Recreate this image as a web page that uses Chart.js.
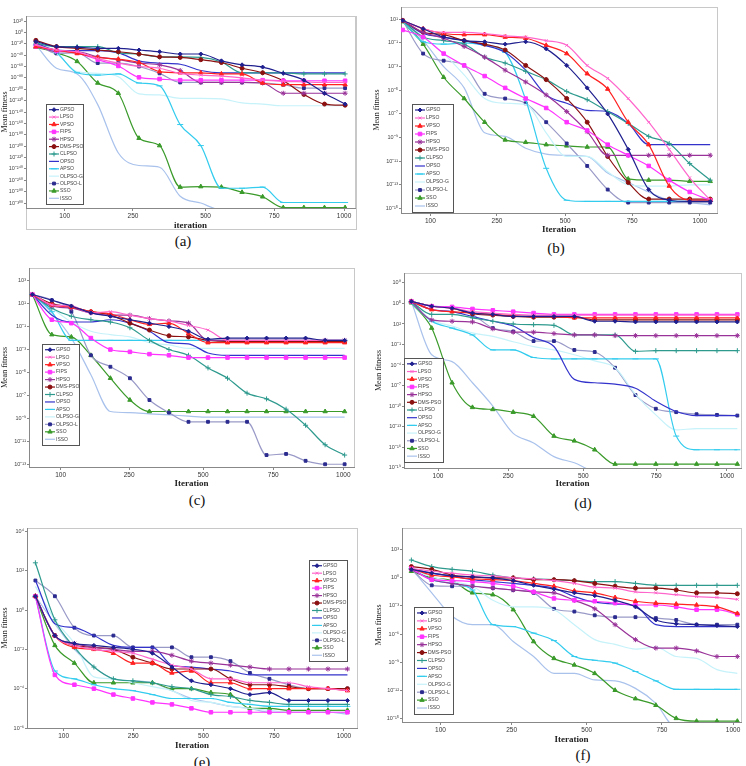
<!DOCTYPE html>
<html>
<head>
<meta charset="utf-8">
<script src="https://cdn.jsdelivr.net/npm/chart.js@4.4.1/dist/chart.umd.min.js"></script>
<style>
  body { margin: 0; background: #fff; }
  #fig { position: relative; width: 746px; height: 766px; overflow: hidden; }
  canvas { position: absolute; }
  .frame { position: absolute; border: 1px solid #c8c8c8; box-sizing: border-box; }
  .cap { position: absolute; font: 15px "Liberation Serif", serif; color: #111; transform: translate(-50%, -50%); }
</style>
</head>
<body>
<div id="fig">
  <div class="frame" style="left:26px;top:16px;width:331px;height:214px"></div>
  <canvas id="cA" width="360" height="222" style="left:0;top:10px"></canvas>
  <canvas id="cB" width="374" height="236" style="left:372px;top:0"></canvas>
  <canvas id="cC" width="360" height="228" style="left:0;top:262px"></canvas>
  <canvas id="cD" width="372" height="223" style="left:374px;top:267px"></canvas>
  <canvas id="cE" width="362" height="230" style="left:0;top:522px"></canvas>
  <canvas id="cF" width="372" height="224" style="left:374px;top:522px"></canvas>
  <div class="cap" style="left:183px;top:241px">(a)</div>
  <div class="cap" style="left:556px;top:248px">(b)</div>
  <div class="cap" style="left:197px;top:500px">(c)</div>
  <div class="cap" style="left:583px;top:503px">(d)</div>
  <div class="cap" style="left:202px;top:762px">(e)</div>
  <div class="cap" style="left:583px;top:755px">(f)</div>
</div>
<script>
// mean fitness is kept as log10 values (the exponent shown on the axis)
const algorithms = ["GPSO", "LPSO", "VPSO", "FIPS", "HPSO", "DMS-PSO", "CLPSO",
  "OPSO", "APSO", "OLPSO-G", "OLPSO-L", "SSO", "ISSO"];

const steps16 = [0, 1, 2, 3, 4, 5, 6, 7, 8, 9, 10, 11, 12, 13, 14, 15];
const steps17 = [0, 1, 2, 3, 4, 5, 6, 7, 8, 9, 10, 11, 12, 13, 14, 15, 16];

const iterLabels = ["100", "250", "500", "750", "1000"];
const iterPosA = [1.40, 4.71, 8.23, 11.56, 14.95];
const iterPosB = [1.35, 4.60, 7.93, 11.19, 14.49];
const iterPosC = [1.45, 4.96, 8.75, 12.34, 15.93];
const iterPosD = [1.31, 4.75, 8.44, 12.02, 15.49];
const iterPosE = [1.45, 5.02, 8.62, 12.24, 15.82];
const iterPosF = [1.43, 4.92, 8.61, 12.30, 15.79];

const yTicksA = [20, 0, -20, -40, -60, -80, -100, -120, -140, -160, -180, -200, -220, -240, -260, -280, -300];
const yTicksB = [1, -1, -3, -5, -7, -9, -11, -13, -15];
const yTicksC = [3, 1, -1, -3, -5, -7, -9, -11, -13];
const yTicksD = [8, 5, 2, -1, -4, -7, -10, -13, -16, -19];
const yTicksE = [4, 2, 0, -2, -4, -6];
const yTicksF = [3, 0, -3, -6, -9, -12, -15];

// rows follow the order of `algorithms`
const fitA = [
  [-16, -25, -26, -28, -28, -31, -34, -38, -38, -50, -57, -61, -72, -84, -107, -126],
  [-22, -31, -34, -46, -54, -60, -63, -72, -75, -77, -80, -84, -86, -87, -88, -88],
  [-25, -31, -37, -44, -47, -53, -69, -71, -71, -73, -73, -89, -92, -92, -92, -92],
  [-25, -32, -36, -48, -59, -79, -82, -84, -84, -84, -84, -84, -85, -85, -85, -85],
  [-22, -34, -34, -43, -48, -54, -57, -67, -88, -88, -88, -89, -107, -107, -107, -107],
  [-14, -25, -28, -31, -34, -38, -43, -44, -48, -53, -63, -71, -85, -109, -126, -128],
  [-19, -25, -25, -25, -36, -38, -43, -43, -44, -52, -71, -71, -71, -73, -73, -73],
  [-19, -31, -32, -32, -36, -50, -54, -56, -67, -71, -71, -71, -71, -71, -71, -71],
  [-22, -36, -71, -75, -73, -89, -94, -162, -199, -274, -274, -272, -299, -299, -299, -299],
  [-22, -37, -69, -72, -78, -108, -110, -116, -116, -117, -124, -126, -129, -129, -129, -129],
  [-19, -37, -36, -54, -54, -60, -72, -88, -88, -88, -88, -89, -92, -98, -98, -98],
  [-26, -36, -51, -89, -107, -186, -199, -272, -271, -272, -281, -289, -308, -308, -308, -308],
  [-22, -63, -73, -127, -212, -234, -237, -288, -300, -312, -312, -312, -312, -312, -312, -312]
];

const fitB = [
  [0.9, 0.2, -0.5, -0.8, -0.9, -1.1, -0.9, -1.5, -2.9, -4.8, -7.0, -10.0, -13.4, -14.3, -14.4, -14.4],
  [0.9, 0.2, -0.1, -0.1, -0.2, -0.4, -0.5, -0.8, -1.2, -2.9, -4.0, -5.7, -7.7, -10.0, -12.4, -14.3],
  [0.9, 0.2, -0.2, -0.3, -0.3, -0.5, -0.6, -1.2, -1.9, -3.6, -4.9, -7.7, -9.6, -13.1, -14.3, -14.3],
  [0.1, -0.5, -1.9, -2.9, -3.8, -4.8, -5.7, -6.5, -7.7, -8.4, -9.6, -10.5, -11.4, -12.6, -13.6, -14.3],
  [0.9, -0.1, -0.6, -1.3, -2.2, -3.3, -4.3, -5.4, -6.8, -8.5, -10.5, -10.5, -10.5, -10.5, -10.5, -10.5],
  [0.9, -0.1, -0.3, -0.8, -1.1, -1.6, -2.9, -4.1, -5.7, -7.7, -10.6, -12.8, -14.2, -14.2, -14.2, -14.2],
  [0.9, -0.5, -0.8, -1.1, -2.2, -2.7, -3.4, -4.1, -5.1, -5.8, -6.8, -7.8, -8.9, -9.5, -11.2, -12.6],
  [0.9, -0.2, -0.5, -0.8, -1.2, -1.8, -3.3, -5.4, -6.1, -6.7, -6.8, -7.8, -9.6, -9.6, -9.6, -9.6],
  [0.9, -0.9, -1.1, -1.0, -1.2, -1.8, -5.8, -11.6, -14.3, -14.4, -14.4, -14.4, -14.4, -14.4, -14.4, -14.4],
  [0.9, -0.5, -1.9, -3.7, -5.7, -6.1, -6.2, -8.6, -10.6, -10.6, -11.9, -13.0, -13.1, -13.1, -13.0, -13.0],
  [0.9, -1.9, -2.5, -2.9, -5.3, -5.7, -6.1, -7.7, -9.5, -11.4, -13.4, -14.5, -14.5, -14.5, -14.5, -14.5],
  [0.8, -1.1, -3.9, -5.7, -7.7, -9.2, -9.4, -9.6, -9.7, -9.8, -9.8, -12.5, -12.6, -12.6, -12.7, -12.7],
  [0.9, -0.8, -3.0, -4.8, -8.6, -8.9, -9.9, -10.4, -10.5, -10.6, -12.0, -12.8, -13.6, -14.3, -14.5, -14.7]
];

const fitC = [
  [1.8, 1.3, 0.8, 0.2, -0.1, -0.4, -0.7, -1.0, -1.4, -2.1, -2.0, -2.0, -2.0, -2.0, -2.0, -2.2, -2.2],
  [1.9, 0.9, 0.8, 0.2, 0.3, 0.0, -0.3, -0.5, -0.9, -1.3, -2.2, -2.2, -2.2, -2.2, -2.2, -2.2, -2.2],
  [1.8, 0.9, 0.7, 0.3, 0.1, -0.4, -0.8, -0.7, -1.6, -2.4, -2.4, -2.4, -2.4, -2.4, -2.4, -2.4, -2.4],
  [1.8, -0.4, -0.7, -2.0, -3.0, -3.2, -3.4, -3.5, -3.7, -3.7, -3.7, -3.7, -3.7, -3.7, -3.7, -3.7, -3.7],
  [1.8, 0.8, 0.6, 0.2, 0.0, 0.0, -0.3, -0.5, -0.7, -2.2, -2.2, -2.2, -2.2, -2.2, -2.2, -2.2, -2.2],
  [1.8, 1.0, 0.7, 0.3, 0.0, -0.7, -1.3, -1.8, -1.9, -2.2, -2.3, -2.3, -2.3, -2.3, -2.3, -2.3, -2.3],
  [1.8, 0.6, -0.1, -0.4, -0.6, -1.1, -2.2, -3.0, -3.5, -4.6, -5.5, -6.8, -7.3, -8.2, -9.6, -11.3, -12.2],
  [1.8, 0.0, -0.6, -0.6, -0.4, -0.7, -1.4, -2.4, -2.5, -3.3, -3.5, -3.5, -3.5, -3.5, -3.5, -3.5, -3.5],
  [1.8, 0.3, -2.2, -2.2, -2.2, -2.2, -2.2, -2.2, -2.2, -2.2, -2.2, -2.2, -2.2, -2.2, -2.2, -2.2, -2.2],
  [1.8, 0.6, -0.6, -1.4, -1.7, -1.9, -2.4, -2.6, -2.9, -2.9, -2.9, -2.9, -2.9, -2.9, -2.9, -2.9, -2.9],
  [1.8, 1.3, 0.3, -3.5, -4.5, -5.5, -7.4, -8.5, -9.3, -9.3, -9.3, -9.3, -12.2, -12.1, -12.7, -13.0, -13.0],
  [1.8, -1.7, -1.9, -3.5, -5.5, -7.4, -8.4, -8.4, -8.4, -8.4, -8.4, -8.4, -8.4, -8.4, -8.4, -8.4, -8.4],
  [1.8, 0.2, -2.0, -5.2, -8.4, -8.5, -8.6, -8.7, -8.8, -8.9, -8.9, -8.9, -8.9, -8.9, -8.9, -8.9, -8.9]
];

const fitD = [
  [5.3, 4.6, 4.3, 3.6, 3.4, 3.1, 3.1, 3.1, 3.1, 2.4, 2.4, 2.3, 2.3, 2.3, 2.3, 2.3, 2.3],
  [5.3, 4.6, 4.3, 3.8, 3.6, 3.4, 3.3, 3.3, 3.3, 3.3, 3.3, 3.3, 3.3, 3.3, 3.3, 3.3, 3.3],
  [5.3, 4.1, 3.8, 3.6, 3.4, 3.2, 3.1, 3.1, 2.9, 2.9, 2.9, 2.9, 2.9, 2.9, 2.9, 2.9, 2.9],
  [5.3, 4.6, 4.5, 4.2, 4.0, 3.8, 3.6, 3.4, 3.4, 3.4, 3.4, 3.4, 3.4, 3.4, 3.4, 3.4, 3.4],
  [5.3, 2.6, 2.4, 2.3, 1.3, 0.8, 0.8, 0.6, 0.4, 0.4, 0.3, 0.3, 0.3, 0.3, 0.3, 0.3, 0.3],
  [5.3, 4.6, 4.3, 3.5, 3.3, 3.1, 3.0, 3.0, 3.0, 2.6, 2.6, 2.6, 2.6, 2.6, 2.6, 2.6, 2.6],
  [5.3, 3.4, 3.4, 2.9, 2.4, 2.0, 1.9, 1.8, 0.4, 0.4, 0.4, -2.0, -1.9, -1.9, -1.9, -1.9, -1.9],
  [5.3, 4.1, 3.8, 3.1, 2.4, 1.7, 0.0, -1.3, -6.1, -6.6, -6.8, -7.4, -9.3, -10.8, -11.4, -11.4, -11.4],
  [5.1, 2.4, 1.4, 0.4, -1.8, -1.8, -2.9, -3.1, -3.1, -3.1, -3.1, -3.1, -3.1, -14.4, -16.4, -16.4, -16.4],
  [5.3, 2.6, 1.7, 0.7, 0.2, -0.6, -1.3, -1.8, -2.5, -3.4, -4.4, -8.3, -11.3, -13.5, -13.3, -13.3, -13.3],
  [5.3, 4.6, 4.4, 3.4, 1.4, 0.9, -0.5, -0.5, -1.8, -2.1, -4.4, -8.4, -10.4, -10.9, -11.2, -11.3, -11.4],
  [5.1, 1.4, -6.6, -10.2, -10.5, -10.9, -11.5, -14.4, -15.1, -16.4, -18.5, -18.5, -18.5, -18.5, -18.5, -18.5, -18.5],
  [5.3, -2.5, -3.5, -6.6, -10.0, -14.0, -15.4, -17.4, -18.3, -19.5, -19.5, -19.5, -19.5, -19.5, -19.5, -19.5, -19.5]
];

const fitE = [
  [0.7, -1.3, -1.7, -1.8, -1.9, -2.0, -2.2, -2.9, -3.6, -3.8, -4.0, -4.3, -4.2, -4.6, -4.6, -4.6, -4.6],
  [0.7, -1.3, -1.8, -2.0, -2.1, -2.2, -2.5, -2.8, -3.0, -3.5, -3.5, -3.7, -3.7, -3.7, -3.9, -4.0, -4.1],
  [0.7, -1.3, -1.9, -2.0, -2.2, -2.7, -2.7, -3.2, -3.1, -3.7, -3.7, -4.0, -4.0, -4.0, -4.0, -4.0, -4.1],
  [0.7, -3.3, -3.8, -4.0, -4.3, -4.5, -4.7, -4.8, -5.0, -5.2, -5.2, -5.2, -5.2, -5.2, -5.2, -5.2, -5.2],
  [0.7, -1.3, -1.7, -1.9, -2.0, -2.1, -2.1, -2.3, -2.6, -2.7, -2.8, -2.9, -3.0, -3.0, -3.0, -3.0, -3.0],
  [0.7, -1.3, -1.8, -1.9, -2.0, -2.4, -2.7, -3.0, -3.0, -3.0, -3.5, -3.8, -3.8, -3.9, -4.0, -4.0, -4.0],
  [2.4, -0.5, -1.9, -2.9, -3.5, -3.6, -3.7, -3.9, -4.0, -4.3, -4.4, -4.6, -4.7, -4.8, -4.8, -4.8, -4.8],
  [1.5, -0.7, -0.9, -1.3, -1.8, -1.9, -1.9, -2.8, -2.9, -3.0, -3.1, -3.3, -3.3, -3.3, -3.3, -3.3, -3.3],
  [0.7, -3.1, -3.5, -3.8, -4.0, -4.1, -4.3, -4.5, -4.5, -4.5, -4.7, -4.8, -4.9, -4.9, -4.9, -4.9, -4.9],
  [1.2, -0.5, -1.7, -3.4, -3.5, -3.7, -3.9, -4.1, -4.6, -4.7, -4.9, -5.0, -5.1, -5.2, -5.2, -5.2, -5.2],
  [1.5, 0.7, -0.9, -1.3, -1.3, -1.9, -1.9, -1.9, -2.4, -2.4, -2.6, -3.2, -3.5, -3.8, -4.0, -4.0, -4.0],
  [0.7, -1.8, -2.7, -3.7, -3.7, -3.7, -3.7, -4.0, -4.0, -4.2, -4.3, -5.0, -5.0, -5.1, -5.1, -5.1, -5.1],
  [0.7, -0.7, -2.0, -2.9, -3.5, -3.6, -3.7, -4.1, -4.5, -4.7, -4.9, -5.0, -5.2, -5.2, -5.2, -5.2, -5.3]
];

const fitF = [
  [0.9, 0.5, 0.2, 0.1, 0.0, -0.3, -0.8, -1.2, -1.6, -1.9, -2.4, -3.1, -4.5, -4.9, -5.0, -5.1, -5.2],
  [1.0, 0.7, 0.5, 0.3, 0.2, 0.0, -0.1, -0.3, -0.6, -1.0, -1.1, -1.5, -1.6, -1.8, -2.0, -2.1, -2.3],
  [1.0, 0.3, 0.1, -0.1, -0.2, -0.3, -0.6, -0.9, -1.4, -1.6, -2.1, -2.5, -2.7, -2.8, -2.9, -3.1, -3.8],
  [1.0, -0.2, -0.3, -0.4, -0.6, -0.9, -1.5, -2.2, -2.4, -2.5, -2.7, -2.9, -2.9, -3.1, -3.4, -3.4, -3.9],
  [0.9, -0.2, -0.6, -0.9, -1.1, -1.3, -1.5, -1.6, -2.4, -3.3, -5.0, -6.6, -7.5, -7.5, -7.8, -8.4, -8.4],
  [1.2, 0.9, 0.3, 0.1, 0.0, 0.0, -0.2, -0.2, -0.3, -0.6, -0.9, -1.1, -1.1, -1.3, -1.6, -1.6, -1.7],
  [1.9, 1.2, 0.9, 0.7, 0.3, 0.0, -0.1, -0.2, -0.3, -0.4, -0.4, -0.6, -0.8, -0.8, -0.8, -0.8, -0.8],
  [0.9, 0.5, 0.2, -0.2, -0.4, -0.6, -0.8, -1.1, -2.0, -2.6, -2.8, -3.0, -5.0, -5.2, -5.2, -5.2, -5.2],
  [1.0, -0.2, -0.6, -1.3, -5.0, -5.2, -5.9, -6.7, -8.4, -8.8, -9.1, -10.0, -11.0, -11.9, -11.9, -11.9, -11.9],
  [1.0, 0.1, -0.4, -0.9, -2.4, -3.1, -3.1, -3.4, -5.0, -6.6, -7.1, -7.6, -7.4, -8.4, -8.6, -9.8, -10.2],
  [0.9, -0.8, -0.9, -0.9, -1.1, -1.3, -1.6, -3.3, -3.6, -4.0, -4.2, -4.2, -4.3, -4.5, -5.0, -5.0, -5.0],
  [0.7, 0.0, -0.3, -1.6, -1.8, -3.4, -6.8, -8.6, -9.3, -10.2, -12.0, -12.9, -13.6, -15.0, -15.3, -15.3, -15.3],
  [1.0, -1.6, -4.1, -5.0, -5.0, -6.8, -8.4, -10.2, -10.2, -10.9, -11.0, -11.8, -13.4, -16.0, -16.0, -16.0, -16.0]
];

// look of each algorithm, same order
const lineColors = ["#1f1f8f", "#ff66cc", "#ff2020", "#ff33ff", "#993399", "#8b1010", "#2e9a8e",
  "#3333cc", "#33ccee", "#c6f2fa", "#9a9ac8", "#3a9a2a", "#a9c2ec"];
const markColors = ["#1f1f8f", "#ff66cc", "#ff2020", "#ff33ff", "#993399", "#8b1010", "#2e9a8e",
  "#3333cc", "#33ccee", "#c6f2fa", "#2b2b8f", "#3a9a2a", "#a9c2ec"];
const markShapes = ["rectRot", "crossRot", "triangle", "rect", "star", "circle", "cross",
  "circle", "line", "circle", "rect", "triangle", "circle"];
const markSizes = [2, 2, 2.5, 2.5, 2.5, 2, 2.5, 0, 3, 0, 2, 2.5, 0];

const SUP = { "-": "\u207B", "0": "\u2070", "1": "\u00B9", "2": "\u00B2", "3": "\u00B3", "4": "\u2074",
  "5": "\u2075", "6": "\u2076", "7": "\u2077", "8": "\u2078", "9": "\u2079" };
const pow10 = (v) => "10" + String(v).split("").map((c) => SUP[c] || "").join("");

const sans = "'Liberation Sans', Arial, sans-serif";
const serif = "'Liberation Serif', 'Times New Roman', serif";

// light border round the plot area
const plotFrame = {
  id: "plotFrame",
  beforeDraw(chart) {
    const a = chart.chartArea;
    const ctx = chart.ctx;
    ctx.save();
    ctx.strokeStyle = "#c8c8c8";
    ctx.lineWidth = 1;
    ctx.strokeRect(a.left + 0.5, a.top + 0.5, a.right - a.left, a.bottom - a.top);
    ctx.restore();
  }
};

// boxed legend placed where the reference has it
const boxLegend = {
  id: "boxLegend",
  afterDraw(chart, args, opts) {
    const ctx = chart.ctx;
    const { x, y, w, h } = opts;
    const sets = chart.data.datasets;
    const row = (h - 4) / sets.length;
    ctx.save();
    ctx.fillStyle = "#fff";
    ctx.fillRect(x, y, w, h);
    ctx.strokeStyle = "#555";
    ctx.lineWidth = 1;
    ctx.strokeRect(x + 0.5, y + 0.5, w, h);
    ctx.font = "5px " + sans;
    ctx.textBaseline = "middle";
    sets.forEach((ds, i) => {
      const cy = y + 2 + row * (i + 0.5);
      ctx.strokeStyle = ds.borderColor;
      ctx.lineWidth = ds.borderWidth;
      ctx.beginPath();
      ctx.moveTo(x + 3, cy);
      ctx.lineTo(x + 13, cy);
      ctx.stroke();
      if (ds.pointRadius > 0) {
        ctx.fillStyle = ds.pointBackgroundColor;
        ctx.strokeStyle = ds.pointBorderColor;
        ctx.lineWidth = 1;
        Chart.helpers.drawPoint(ctx, { pointStyle: ds.pointStyle, radius: ds.pointRadius, rotation: 0, borderWidth: 1 }, x + 8, cy);
      }
      ctx.fillStyle = "#444";
      ctx.fillText(ds.label, x + 14, cy);
    });
    ctx.restore();
  }
};

function makeChart(id, p) {
  const datasets = algorithms.map((name, i) => ({
    label: name,
    data: p.fits[i],
    borderColor: lineColors[i],
    borderWidth: 1.2,
    pointStyle: markShapes[i],
    pointRadius: markSizes[i],
    pointBackgroundColor: markColors[i],
    pointBorderColor: markColors[i],
    pointBorderWidth: 1,
    cubicInterpolationMode: "monotone",
    fill: false
  }));
  return new Chart(document.getElementById(id), {
    type: "line",
    data: { labels: p.steps, datasets: datasets },
    plugins: [plotFrame, boxLegend],
    options: {
      responsive: false,
      animation: false,
      devicePixelRatio: 1,
      layout: { padding: { top: p.padTop, right: p.padRight, left: 0, bottom: 0 } },
      plugins: {
        legend: { display: false },
        tooltip: { enabled: false },
        boxLegend: p.legend
      },
      scales: {
        x: {
          type: "linear",
          min: p.xMin,
          max: p.xMax,
          afterBuildTicks: (s) => { s.ticks = p.xPos.map((v) => ({ value: v })); },
          afterFit: (s) => { s.height = p.xAxisH; },
          ticks: {
            autoSkip: false,
            maxRotation: 0,
            padding: 1,
            color: "#333",
            font: { family: sans, size: 6.5 },
            callback: (v, i) => iterLabels[i]
          },
          grid: { drawOnChartArea: false, tickLength: 3, color: "#888" },
          border: { color: "#888" },
          title: {
            display: true,
            text: p.xTitle,
            color: "#222",
            font: { family: serif, size: 9, weight: "bold" },
            padding: { top: 0, bottom: 1 }
          }
        },
        y: {
          type: "linear",
          min: p.yMin,
          max: p.yMax,
          afterBuildTicks: (s) => { s.ticks = p.yTicks.map((v) => ({ value: v })); },
          afterFit: (s) => { s.width = p.yAxisW; },
          ticks: {
            autoSkip: false,
            padding: 1,
            color: "#444",
            font: { family: sans, size: 5.5 },
            callback: (v) => pow10(v)
          },
          grid: { drawOnChartArea: false, tickLength: 2, color: "#888" },
          border: { color: "#888" },
          title: {
            display: true,
            text: "Mean fitness",
            color: "#222",
            font: { family: serif, size: 8 },
            padding: 0
          }
        }
      }
    }
  });
}

makeChart("cA", { steps: steps16, fits: fitA, xPos: iterPosA, yTicks: yTicksA, xTitle: "iteration",
  xMin: -0.48, xMax: 15.48, yMin: -308.7, yMax: 28.8,
  yAxisW: 26, xAxisH: 24, padTop: 6, padRight: 4, legend: { x: 46, y: 94, w: 37, h: 100 } });
makeChart("cB", { steps: steps16, fits: fitB, xPos: iterPosB, yTicks: yTicksB, xTitle: "Iteration",
  xMin: -0.08, xMax: 15.33, yMin: -15.38, yMax: 2.04,
  yAxisW: 29, xAxisH: 23, padTop: 7, padRight: 29, legend: { x: 40, y: 104, w: 41, h: 108 } });
makeChart("cC", { steps: steps17, fits: fitC, xPos: iterPosC, yTicks: yTicksC, xTitle: "Iteration",
  xMin: -0.17, xMax: 16.48, yMin: -13.24, yMax: 4.11,
  yAxisW: 29, xAxisH: 23, padTop: 6, padRight: 6, legend: { x: 42, y: 82, w: 37, h: 101 } });
makeChart("cD", { steps: steps17, fits: fitD, xPos: iterPosD, yTicks: yTicksD, xTitle: "Iteration",
  xMin: -0.36, xMax: 16.18, yMin: -19.07, yMax: 9.46,
  yAxisW: 30, xAxisH: 22, padTop: 6, padRight: 5, legend: { x: 30, y: 91, w: 39, h: 104 } });
makeChart("cE", { steps: steps17, fits: fitE, xPos: iterPosE, yTicks: yTicksE, xTitle: "Iteration",
  xMin: -0.43, xMax: 16.49, yMin: -6.0, yMax: 4.17,
  yAxisW: 27, xAxisH: 24, padTop: 6, padRight: 4, legend: { x: 309, y: 38, w: 38, h: 101 } });
makeChart("cF", { steps: steps17, fits: fitF, xPos: iterPosF, yTicks: yTicksF, xTitle: "Iteration",
  xMin: -0.46, xMax: 16.18, yMin: -15.39, yMax: 5.32,
  yAxisW: 28, xAxisH: 24, padTop: 6, padRight: 5, legend: { x: 40, y: 85, w: 39, h: 107 } });
</script>
</body>
</html>
